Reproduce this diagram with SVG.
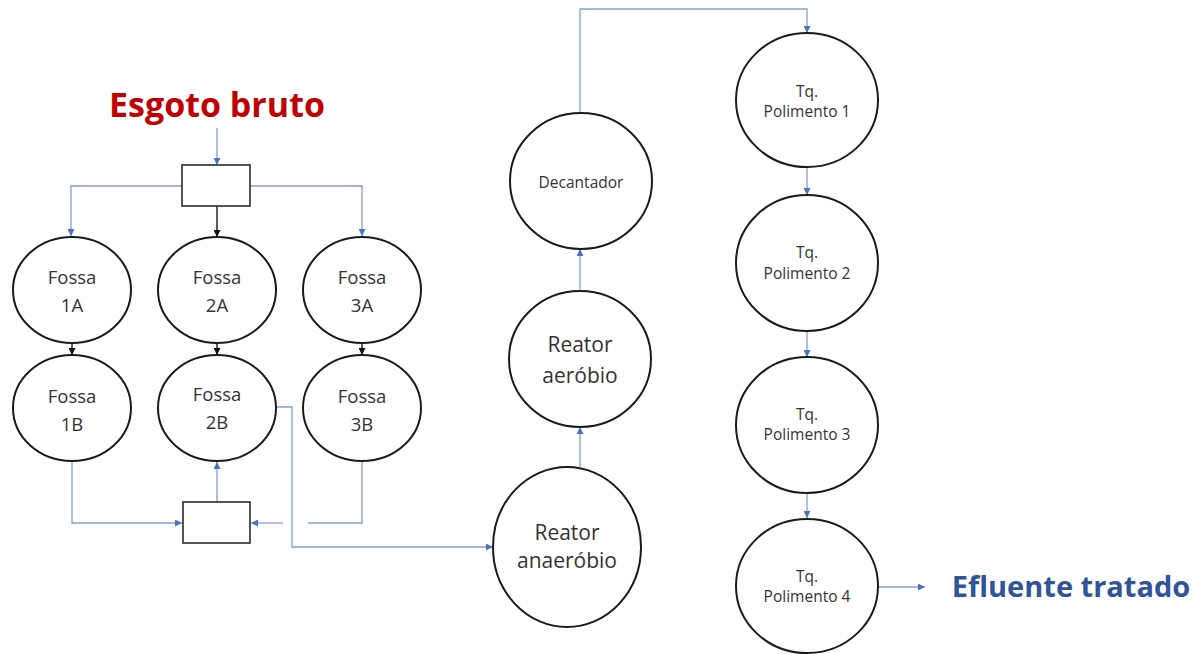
<svg xmlns="http://www.w3.org/2000/svg" width="1203" height="654" viewBox="0 0 1203 654">
<style>
.node{fill:#fff;stroke:#1a1a1a;stroke-width:2}
.box{fill:#fff;stroke:#2a2a2a;stroke-width:1.6}
.t{font-family:"Open Sans",sans-serif;fill:#333;text-anchor:middle}
.fossa{font-size:18.5px}
.tq{font-size:15.5px}
.big{font-size:21px}
.blue{fill:none;stroke:#7f9fd4;stroke-width:1.3}
.dark{fill:none;stroke:#333;stroke-width:1.6}
</style>
<defs>
<marker id="ab" viewBox="0 0 10 10" refX="10" refY="5" markerWidth="7" markerHeight="7" markerUnits="userSpaceOnUse" orient="auto"><path d="M0,0L10,5L0,10z" fill="#4a72c0"/></marker>
<marker id="ak" viewBox="0 0 10 10" refX="10" refY="5" markerWidth="7" markerHeight="7" markerUnits="userSpaceOnUse" orient="auto"><path d="M0,0L10,5L0,10z" fill="#111"/></marker>
</defs>
<rect width="1203" height="654" fill="#fff"/>
<text x="217" y="117" font-family="Open Sans,sans-serif" font-weight="bold" font-size="34" fill="#c00000" text-anchor="middle">Esgoto bruto</text>
<text x="1071" y="597" font-family="Open Sans,sans-serif" font-weight="bold" font-size="29" fill="#2f5597" text-anchor="middle">Efluente tratado</text>
<g id="connectors">
<path class="blue" d="M217,128V165" marker-end="url(#ab)"/>
<path class="blue" d="M182,186H71V236" marker-end="url(#ab)"/>
<path class="blue" d="M250,186H362V236" marker-end="url(#ab)"/>
<path class="dark" d="M217,206V237" marker-end="url(#ak)"/>
<path class="dark" d="M72,343V355" marker-end="url(#ak)"/>
<path class="dark" d="M217,343V355" marker-end="url(#ak)"/>
<path class="dark" d="M362,343V355" marker-end="url(#ak)"/>
<path class="blue" d="M72,462V523H182" marker-end="url(#ab)"/>
<path class="blue" d="M362,462V523H308"/>
<path class="blue" d="M283,523H251" marker-end="url(#ab)"/>
<path class="blue" d="M217,502V462" marker-end="url(#ab)"/>
<path class="blue" d="M276,407H292V547H493" marker-end="url(#ab)"/>
<path class="blue" d="M580,467V427" marker-end="url(#ab)"/>
<path class="blue" d="M580,291V249" marker-end="url(#ab)"/>
<path class="blue" d="M580,113V9H807V33" marker-end="url(#ab)"/>
<path class="blue" d="M807,167V195" marker-end="url(#ab)"/>
<path class="blue" d="M807,331V357" marker-end="url(#ab)"/>
<path class="blue" d="M807,493V518" marker-end="url(#ab)"/>
<path class="blue" d="M878,587H925" marker-end="url(#ab)"/>
</g>
<g id="split-box"><rect class="box" x="182" y="165" width="68" height="41"/></g>
<g id="mix-box"><rect class="box" x="183" y="502" width="67" height="41"/></g>
<g id="fossa1A"><ellipse class="node" cx="72" cy="290" rx="59" ry="53"/><text class="t fossa" x="72" y="284">Fossa</text><text class="t fossa" x="72" y="312">1A</text></g>
<g id="fossa2A"><ellipse class="node" cx="217" cy="290" rx="59" ry="53"/><text class="t fossa" x="217" y="284">Fossa</text><text class="t fossa" x="217" y="312">2A</text></g>
<g id="fossa3A"><ellipse class="node" cx="362" cy="290" rx="59" ry="53"/><text class="t fossa" x="362" y="284">Fossa</text><text class="t fossa" x="362" y="312">3A</text></g>
<g id="fossa1B"><ellipse class="node" cx="72" cy="408" rx="59" ry="53"/><text class="t fossa" x="72" y="403">Fossa</text><text class="t fossa" x="72" y="431">1B</text></g>
<g id="fossa2B"><ellipse class="node" cx="217" cy="408" rx="59" ry="53"/><text class="t fossa" x="217" y="401">Fossa</text><text class="t fossa" x="217" y="429">2B</text></g>
<g id="fossa3B"><ellipse class="node" cx="362" cy="408" rx="59" ry="53"/><text class="t fossa" x="362" y="403">Fossa</text><text class="t fossa" x="362" y="431">3B</text></g>
<g id="reator-anaerobio"><ellipse class="node" cx="567" cy="547" rx="74" ry="80"/><text class="t big" x="567" y="540">Reator</text><text class="t big" x="567" y="568">anaeróbio</text></g>
<g id="reator-aerobio"><ellipse class="node" cx="580" cy="359" rx="71" ry="68"/><text class="t big" x="580" y="352">Reator</text><text class="t big" x="580" y="383">aeróbio</text></g>
<g id="decantador"><ellipse class="node" cx="581" cy="181" rx="71" ry="68"/><text class="t tq" x="581" y="188">Decantador</text></g>
<g id="tq1"><ellipse class="node" cx="807" cy="100" rx="71" ry="67"/><text class="t tq" x="807" y="97">Tq.</text><text class="t tq" x="807" y="117">Polimento 1</text></g>
<g id="tq2"><ellipse class="node" cx="807" cy="263" rx="71" ry="68"/><text class="t tq" x="807" y="258">Tq.</text><text class="t tq" x="807" y="279">Polimento 2</text></g>
<g id="tq3"><ellipse class="node" cx="807" cy="425" rx="71" ry="68"/><text class="t tq" x="807" y="420">Tq.</text><text class="t tq" x="807" y="440">Polimento 3</text></g>
<g id="tq4"><ellipse class="node" cx="807" cy="586" rx="71" ry="67"/><text class="t tq" x="807" y="582">Tq.</text><text class="t tq" x="807" y="602">Polimento 4</text></g>
</svg>
